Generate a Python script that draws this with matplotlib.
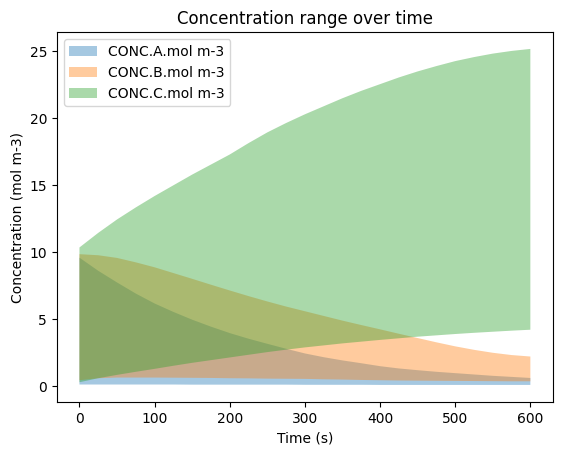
import matplotlib
matplotlib.use("Agg")
import matplotlib.pyplot as plt

# time points (s)
times = [0, 25, 50, 75, 100, 125, 150, 175, 200, 225, 250, 275, 300,
         325, 350, 375, 400, 425, 450, 475, 500, 525, 550, 575, 600]

# min / max concentration envelopes (mol m-3)
a_low = [0.13, 0.13, 0.13, 0.13, 0.13, 0.13, 0.12, 0.12, 0.12, 0.12, 0.12, 0.12, 0.11,
         0.11, 0.11, 0.11, 0.1, 0.1, 0.1, 0.1, 0.1, 0.1, 0.1, 0.1, 0.1]
a_high = [9.6, 8.62, 7.75, 6.92, 6.18, 5.55, 4.97, 4.45, 3.97, 3.55, 3.17, 2.8, 2.45,
          2.17, 1.93, 1.72, 1.5, 1.33, 1.2, 1.08, 0.98, 0.88, 0.78, 0.7, 0.62]

b_low = [0.45, 0.6, 0.65, 0.65, 0.65, 0.64, 0.63, 0.62, 0.6, 0.59, 0.57, 0.56, 0.55,
         0.52, 0.5, 0.47, 0.45, 0.43, 0.42, 0.41, 0.4, 0.39, 0.38, 0.37, 0.37]
b_high = [9.86, 9.78, 9.58, 9.25, 8.88, 8.45, 8.02, 7.58, 7.15, 6.73, 6.33, 5.95, 5.6,
          5.25, 4.9, 4.57, 4.25, 3.92, 3.6, 3.28, 2.98, 2.72, 2.5, 2.33, 2.22]

c_low = [0.3, 0.6, 0.85, 1.08, 1.3, 1.53, 1.75, 1.95, 2.15, 2.35, 2.55, 2.73, 2.9,
         3.05, 3.2, 3.33, 3.46, 3.58, 3.7, 3.8, 3.9, 3.99, 4.07, 4.15, 4.22]
c_high = [10.36, 11.45, 12.45, 13.35, 14.2, 15.0, 15.8, 16.55, 17.3, 18.15, 18.95, 19.65, 20.3,
          20.9, 21.5, 22.05, 22.55, 23.05, 23.5, 23.9, 24.27, 24.57, 24.83, 25.03, 25.18]

labels = ["CONC.A.mol m-3", "CONC.B.mol m-3", "CONC.C.mol m-3"]

fig, ax = plt.subplots(figsize=(6.4, 4.8), dpi=100)

ax.fill_between(times, a_low, a_high, alpha=0.4, linewidth=0, label=labels[0])
ax.fill_between(times, b_low, b_high, alpha=0.4, linewidth=0, label=labels[1])
ax.fill_between(times, c_low, c_high, alpha=0.4, linewidth=0, label=labels[2])

ax.set_title("Concentration range over time")
ax.set_xlabel("Time (s)")
ax.set_ylabel("Concentration (mol m-3)")
ax.legend(loc="upper left")

fig.savefig("out.png", dpi=100, bbox_inches="tight")
